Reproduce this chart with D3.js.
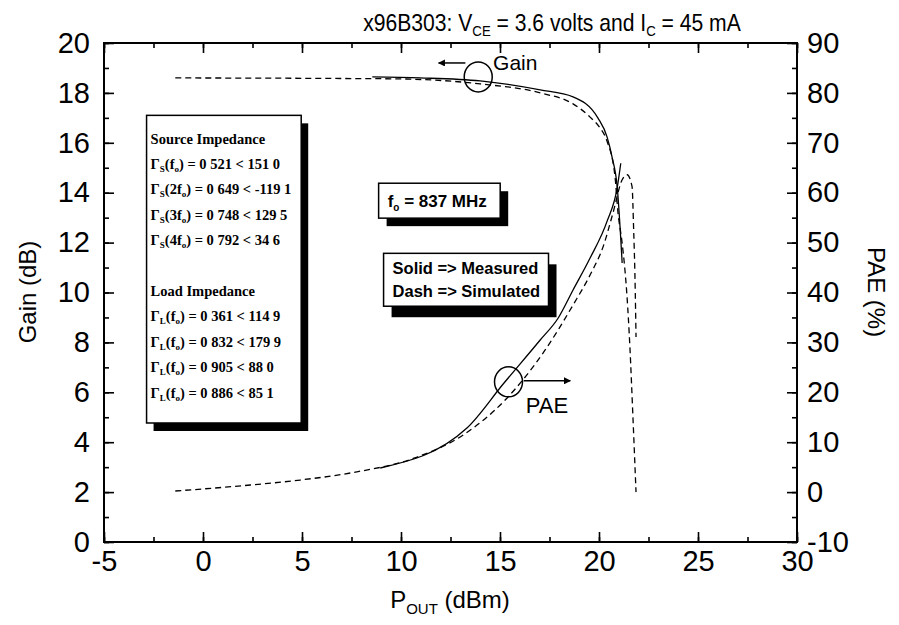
<!DOCTYPE html>
<html>
<head>
<meta charset="utf-8">
<script src="https://cdn.jsdelivr.net/npm/d3@7"></script>
<style>
body{margin:0;background:#fff}
text{fill:#000}
</style>
</head>
<body>
<svg id="chart" width="899" height="625"></svg>
<script>
// measured gain (solid)
const gainMeasX=[8.55,10.97,14.0,17.03,18.69,19.95,20.41,20.66,20.92,21.17];
const gainMeasY=[18.64,18.60,18.48,18.12,17.84,16.99,16.23,15.43,14.23,11.18];
// simulated gain (dash)
const gainSimX=[-1.4,6.43,9.96,14.0,17.03,18.69,19.55,20.05,20.39,20.81,20.96,21.15,21.31,21.41,21.56,21.72,21.87];
const gainSimY=[18.6,18.58,18.56,18.36,18.0,17.56,17.03,16.6,16.1,14.63,13.19,12.1,10.9,9.9,7.82,4.89,2.0];
// measured PAE (solid)
const paeMeasX=[8.95,13.33,15.16,17.03,17.94,18.69,19.55,20.41,20.92,21.1];
const paeMeasY=[4.83,12.85,21.66,30.48,34.89,40.5,46.9,54.3,61.0,65.9];
// simulated PAE (dash)
const paeSimX=[-1.4,2.39,4.91,7.44,10.82,13.14,15.26,17.28,18.69,19.6,20.21,20.71,21.17,21.42,21.67,21.75,21.82,21.87];
const paeSimY=[0.22,1.42,2.42,3.83,7.03,11.44,18.46,28.48,37.5,43.9,49.2,56.0,62.6,63.6,61.2,52.6,42.5,31.1];

const xTicks=[-5,0,5,10,15,20,25,30];
const gainTicks=[0,2,4,6,8,10,12,14,16,18,20];
const paeTicks=[-10,0,10,20,30,40,50,60,70,80,90];

const srcLines=[["S","","0 521 < 151 0"],["S","2","0 649 < -119 1"],["S","3","0 748 < 129 5"],["S","4","0 792 < 34 6"]];
const loadLines=[["L","","0 361 < 114 9"],["L","","0 832 < 179 9"],["L","","0 905 < 88 0"],["L","","0 886 < 85 1"]];

const svg=d3.select("#chart");
const x=d3.scaleLinear().domain([-5,30]).range([104,797]);
const yG=d3.scaleLinear().domain([0,20]).range([542,43]);
const yP=d3.scaleLinear().domain([-10,90]).range([542,43]);

const tickFont='"Liberation Sans",Arial,sans-serif';
const labFont='"Liberation Sans",Arial,sans-serif';
const serif='"Liberation Serif","Times New Roman",serif';

function styleAxis(g){
	g.select(".domain").remove();
	g.selectAll("line").attr("stroke","#000").attr("stroke-width",1.6);
	g.selectAll("text").style("font-family",tickFont).style("font-size","29px").attr("fill","#000");
}

// minor ticks
svg.append("g").attr("transform","translate(0,542)")
	.call(d3.axisBottom(x).tickValues(d3.range(-5,30.1,2.5)).tickSize(-5).tickFormat(""))
	.call(styleAxis);
svg.append("g").attr("transform","translate(0,43)")
	.call(d3.axisTop(x).tickValues(d3.range(-5,30.1,2.5)).tickSize(-5).tickFormat(""))
	.call(styleAxis);
svg.append("g").attr("transform","translate(104,0)")
	.call(d3.axisLeft(yG).tickValues(d3.range(0,20.1,1)).tickSize(-5).tickFormat(""))
	.call(styleAxis);
svg.append("g").attr("transform","translate(797,0)")
	.call(d3.axisRight(yP).tickValues(d3.range(-10,90.1,5)).tickSize(-5).tickFormat(""))
	.call(styleAxis);
// major ticks
svg.append("g").attr("transform","translate(0,542)")
	.call(d3.axisBottom(x).tickValues(xTicks).tickSize(-10).tickPadding(8).tickFormat(d3.format("d")))
	.call(styleAxis);
svg.append("g").attr("transform","translate(0,43)")
	.call(d3.axisTop(x).tickValues(xTicks).tickSize(-10).tickFormat(""))
	.call(styleAxis);
svg.append("g").attr("transform","translate(104,0)")
	.call(d3.axisLeft(yG).tickValues(gainTicks).tickSize(-10).tickPadding(14).tickFormat(d3.format("d")))
	.call(styleAxis);
svg.append("g").attr("transform","translate(797,0)")
	.call(d3.axisRight(yP).tickValues(paeTicks).tickSize(-10).tickPadding(10).tickFormat(d3.format("d")))
	.call(styleAxis);
svg.selectAll("text").filter(function(){return this.textContent.startsWith("−")})
	.text(function(){return "-"+this.textContent.slice(1)});

svg.append("rect").attr("x",104).attr("y",43).attr("width",693).attr("height",499)
	.attr("fill","none").attr("stroke","#000").attr("stroke-width",2);

// curves
function zip(a,b){return a.map((v,i)=>[v,b[i]])}
const lineG=d3.line().x(d=>x(d[0])).y(d=>yG(d[1])).curve(d3.curveMonotoneX);
const lineP=d3.line().x(d=>x(d[0])).y(d=>yP(d[1])).curve(d3.curveMonotoneX);
svg.append("path").attr("d",lineG(zip(gainSimX,gainSimY))).attr("fill","none").attr("stroke","#000").attr("stroke-width",1.3).attr("stroke-dasharray","6,4");
svg.append("path").attr("d",lineG(zip(gainMeasX,gainMeasY))).attr("fill","none").attr("stroke","#000").attr("stroke-width",1.3);
svg.append("path").attr("d",lineP(zip(paeSimX,paeSimY))).attr("fill","none").attr("stroke","#000").attr("stroke-width",1.3).attr("stroke-dasharray","6,4");
svg.append("path").attr("d",lineP(zip(paeMeasX,paeMeasY))).attr("fill","none").attr("stroke","#000").attr("stroke-width",1.3);

// arrow marker
svg.append("defs").append("marker").attr("id","arr").attr("viewBox","0 0 10 10")
	.attr("refX",9).attr("refY",5).attr("markerWidth",9).attr("markerHeight",7)
	.attr("markerUnits","userSpaceOnUse").attr("orient","auto")
	.append("path").attr("d","M0,0L10,5L0,10z").attr("fill","#000");

// Gain annotation
svg.append("ellipse").attr("cx",x(13.9)).attr("cy",yG(18.64)).attr("rx",14).attr("ry",15)
	.attr("fill","none").attr("stroke","#000").attr("stroke-width",1.5);
svg.append("line").attr("x1",x(13.25)).attr("x2",x(11.9)).attr("y1",yG(19.2)).attr("y2",yG(19.2))
	.attr("stroke","#000").attr("stroke-width",1.5).attr("marker-end","url(#arr)");
svg.append("text").attr("x",x(14.65)).attr("y",yG(19.2)+7).text("Gain")
	.style("font-family",labFont).style("font-size","21px");

// PAE annotation
svg.append("ellipse").attr("cx",x(15.43)).attr("cy",yP(22.1)).attr("rx",14).attr("ry",15)
	.attr("fill","none").attr("stroke","#000").attr("stroke-width",1.5);
svg.append("line").attr("x1",x(16.2)).attr("x2",x(18.55)).attr("y1",yP(22.3)).attr("y2",yP(22.3))
	.attr("stroke","#000").attr("stroke-width",1.5).attr("marker-end","url(#arr)");
svg.append("text").attr("x",x(16.3)).attr("y",yP(15.9)).text("PAE")
	.style("font-family",labFont).style("font-size","22px");

// shadowed boxes
function box(x0,x1,g0,g1,dx,dy){
	const bx=x(x0),by=yG(g0),bw=x(x1)-x(x0),bh=yG(g1)-yG(g0);
	svg.append("rect").attr("x",bx+dx).attr("y",by+dy).attr("width",bw).attr("height",bh).attr("fill","#000");
	svg.append("rect").attr("x",bx).attr("y",by).attr("width",bw).attr("height",bh)
		.attr("fill","#fff").attr("stroke","#000").attr("stroke-width",1.5);
	return {x:bx,y:by};
}

// impedance box
const b1=box(-2.85,4.96,17.1,4.77,7,8);
const imp=svg.append("g").style("font-family",serif).style("font-size","14.5px").style("font-weight","bold");
imp.append("text").attr("x",b1.x+4).attr("y",yG(15.95)).text("Source Impedance");
function gammaLine(d,yy){
	const t=imp.append("text").attr("x",b1.x+4).attr("y",yy);
	t.append("tspan").text("\u0393");
	t.append("tspan").attr("dy",3).style("font-size","9px").text(d[0]);
	t.append("tspan").attr("dy",-3).text("("+d[1]+"f");
	t.append("tspan").attr("dy",3).style("font-size","9px").text("o");
	t.append("tspan").attr("dy",-3).text(") = "+d[2]);
}
srcLines.forEach((d,i)=>gammaLine(d,yG(14.95-i*1.02)));
imp.append("text").attr("x",b1.x+4).attr("y",yG(9.85)).text("Load Impedance");
loadLines.forEach((d,i)=>gammaLine(d,yG(8.85-i*1.02)));

// f0 box
const b2=box(8.87,15.01,14.38,12.98,8,8);
const ft=svg.append("text").attr("x",b2.x+9).attr("y",b2.y+24).style("font-family",labFont).style("font-size","17px").style("font-weight","bold");
ft.append("tspan").text("f");
ft.append("tspan").attr("dy",4).style("font-size","10px").text("o");
ft.append("tspan").attr("dy",-4).text(" = 837 MHz");

// solid/dash box
const b3=box(9.12,17.45,11.57,9.45,8,11);
svg.append("text").attr("x",b3.x+9).attr("y",b3.y+21).text("Solid => Measured")
	.style("font-family",labFont).style("font-size","16.5px").style("font-weight","bold");
svg.append("text").attr("x",b3.x+9).attr("y",b3.y+44).text("Dash => Simulated")
	.style("font-family",labFont).style("font-size","16.5px").style("font-weight","bold");

// title
const tt=svg.append("g").attr("transform","translate(552,31) scale(0.88,1)")
	.append("text").attr("text-anchor","middle")
	.style("font-family",tickFont).style("font-size","24px");
tt.append("tspan").text("x96B303: V");
tt.append("tspan").attr("dy",5).style("font-size","15px").text("CE");
tt.append("tspan").attr("dy",-5).text(" = 3.6 volts and I");
tt.append("tspan").attr("dy",5).style("font-size","15px").text("C");
tt.append("tspan").attr("dy",-5).text(" = 45 mA");

// axis titles
const xt=svg.append("text").attr("x",450).attr("y",608).attr("text-anchor","middle")
	.style("font-family",tickFont).style("font-size","24px");
xt.append("tspan").text("P");
xt.append("tspan").attr("dy",6).style("font-size","15px").text("OUT");
xt.append("tspan").attr("dy",-6).text(" (dBm)");

svg.append("text").attr("transform","translate(36,292) rotate(-90)").attr("text-anchor","middle")
	.style("font-family",tickFont).style("font-size","24px").text("Gain (dB)");
svg.append("text").attr("transform","translate(868,292) rotate(90)").attr("text-anchor","middle")
	.style("font-family",tickFont).style("font-size","24px").text("PAE (%)");
</script>
</body>
</html>
